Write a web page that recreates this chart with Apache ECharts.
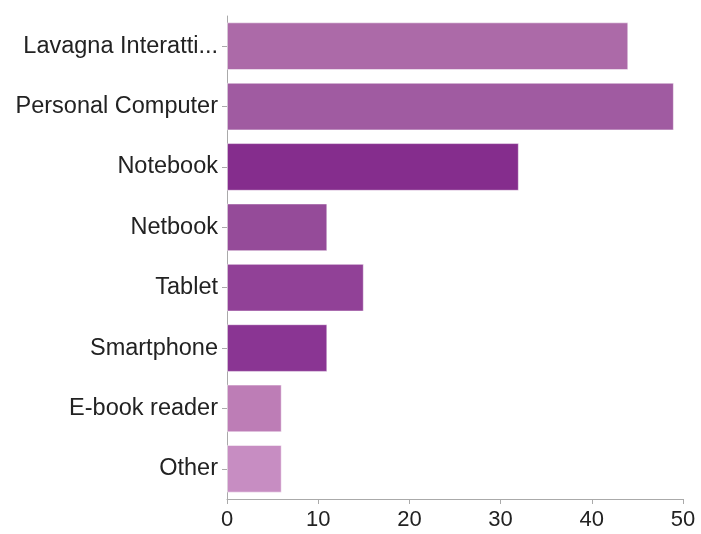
<!DOCTYPE html>
<html>
<head>
<meta charset="utf-8">
<script src="https://cdn.jsdelivr.net/npm/echarts@6/dist/echarts.min.js"></script>
<style>
  html, body { margin: 0; padding: 0; background: #fff; }
  #chart { width: 701px; height: 534px; }
</style>
</head>
<body>
<div id="chart"></div>
<script>
// categories top to bottom
const categories = ['Lavagna Interatti...', 'Personal Computer', 'Notebook', 'Netbook', 'Tablet', 'Smartphone', 'E-book reader', 'Other'];
const values = [44, 49, 32, 11, 15, 11, 6, 6];
const barColors = ['#ac6aa8', '#a05ba1', '#852d8d', '#954b99', '#914197', '#8a3593', '#bd7db6', '#c78dc2'];
const xTicks = [0, 10, 20, 30, 40, 50];

const chart = echarts.init(document.getElementById('chart'));
const option = {
    animation: false,
    textStyle: {
        fontFamily: 'Liberation Sans'
    },
    grid: {
        left: 227,
        right: 18,
        top: 16,
        bottom: 35
    },
    xAxis: {
        type: 'value',
        min: xTicks[0],
        max: xTicks[xTicks.length - 1],
        interval: 10,
        axisLine: {
            show: true,
            lineStyle: { color: '#aaa', width: 1 }
        },
        axisTick: {
            show: true,
            length: 5,
            lineStyle: { color: '#aaa' }
        },
        splitLine: { show: false },
        axisLabel: {
            color: '#222',
            fontSize: 22,
            margin: 10
        }
    },
    yAxis: {
        type: 'category',
        inverse: true,
        data: categories,
        axisLine: {
            show: true,
            lineStyle: { color: '#aaa', width: 1 }
        },
        axisTick: {
            show: true,
            length: 5,
            alignWithLabel: true,
            lineStyle: { color: '#aaa' }
        },
        axisLabel: {
            color: '#222',
            fontSize: 23.5,
            margin: 9
        }
    },
    series: [{
        type: 'bar',
        barCategoryGap: '21%',
        data: values.map(function(v, i) {
            return {
                value: v,
                itemStyle: {
                    color: barColors[i],
                    borderColor: 'rgba(255,255,255,0.5)',
                    borderWidth: 1
                }
            };
        })
    }]
};
chart.setOption(option);
</script>
</body>
</html>
